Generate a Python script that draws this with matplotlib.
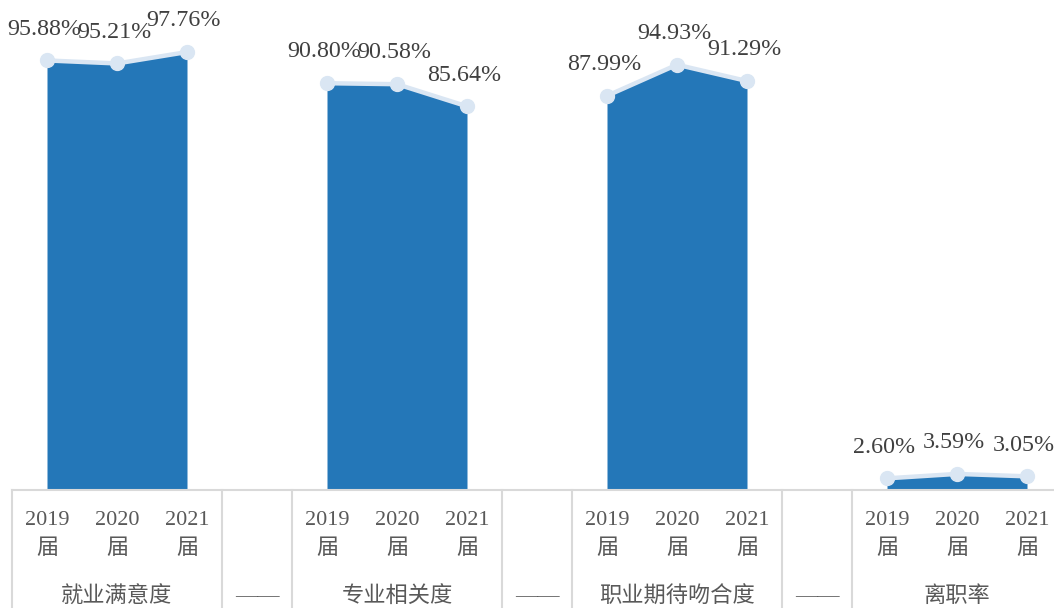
import numpy as np
import matplotlib.pyplot as plt
import matplotlib.transforms as mtransforms

plt.rcParams['font.family'] = ['Liberation Serif', 'Noto Sans CJK SC', 'DejaVu Sans']

groups = ['就业满意度', '专业相关度', '职业期待吻合度', '离职率']
years = ['2019\n届', '2020\n届', '2021\n届']
values = [
    [95.88, 95.21, 97.76],
    [90.80, 90.58, 85.64],
    [87.99, 94.93, 91.29],
    [2.60, 3.59, 3.05],
]
sep_label = '——'

FILL = '#2477B8'
LINE = '#DAE6F3'
GRID = '#D9D9D9'

W, H = 1054, 608
fig = plt.figure(figsize=(W / 100, H / 100), dpi=100)
ax_h = 490
ax = fig.add_axes([12 / W, (H - ax_h) / H, 1050 / W, ax_h / H])

def yax(ypix):
    # pixel row below the axes top -> axes fraction
    return (ax_h - ypix) / ax_h

n_per = len(years)
step = n_per + 1
for gi, vals in enumerate(values):
    xs = np.arange(n_per) + gi * step
    ax.fill_between(xs, 0, vals, color=FILL, lw=0, zorder=1)
    ax.plot(xs, vals, color=LINE, lw=3.2, marker='o', ms=10,
            mfc=LINE, mec=LINE, zorder=3)
    for x, v in zip(xs, vals):
        ax.annotate(f'{v:.2f}%', (x, v), xytext=(-2.2, 22.5), textcoords='offset points',
                    ha='center', va='center', fontsize=17.3, color='#404040')

ax.set_xlim(-0.5, len(groups) * step - 1.5)
ax.set_ylim(0, ax_h / 4.48)
ax.axis('off')

trans = mtransforms.blended_transform_factory(ax.transData, ax.transAxes)
# bottom axis line
ax.plot([-0.5, len(groups) * step - 1.5], [0, 0], transform=trans,
        color=GRID, lw=1.5, clip_on=False, zorder=2)

# category boundaries
bounds = [-0.5]
for gi in range(len(groups)):
    bounds.append(gi * step + n_per - 0.5)
    bounds.append(gi * step + n_per + 0.5)
for b in bounds:
    ax.plot([b, b], [0, yax(H)], transform=trans, color=GRID, lw=1.5,
            clip_on=False)

for gi, g in enumerate(groups):
    xs = np.arange(n_per) + gi * step
    for x, yl in zip(xs, years):
        ax.text(x, yax(535), yl, transform=trans, ha='center', va='center',
                fontsize=16, color='#595959', linespacing=1.6)
    ax.text(xs[1], yax(597), g, transform=trans, ha='center', va='center',
            fontsize=16, color='#595959')
    if gi < len(groups) - 1:
        ax.text(gi * step + n_per, yax(597), sep_label, transform=trans,
                ha='center', va='center', fontsize=16, color='#595959')

fig.savefig('out.png', dpi=100)
